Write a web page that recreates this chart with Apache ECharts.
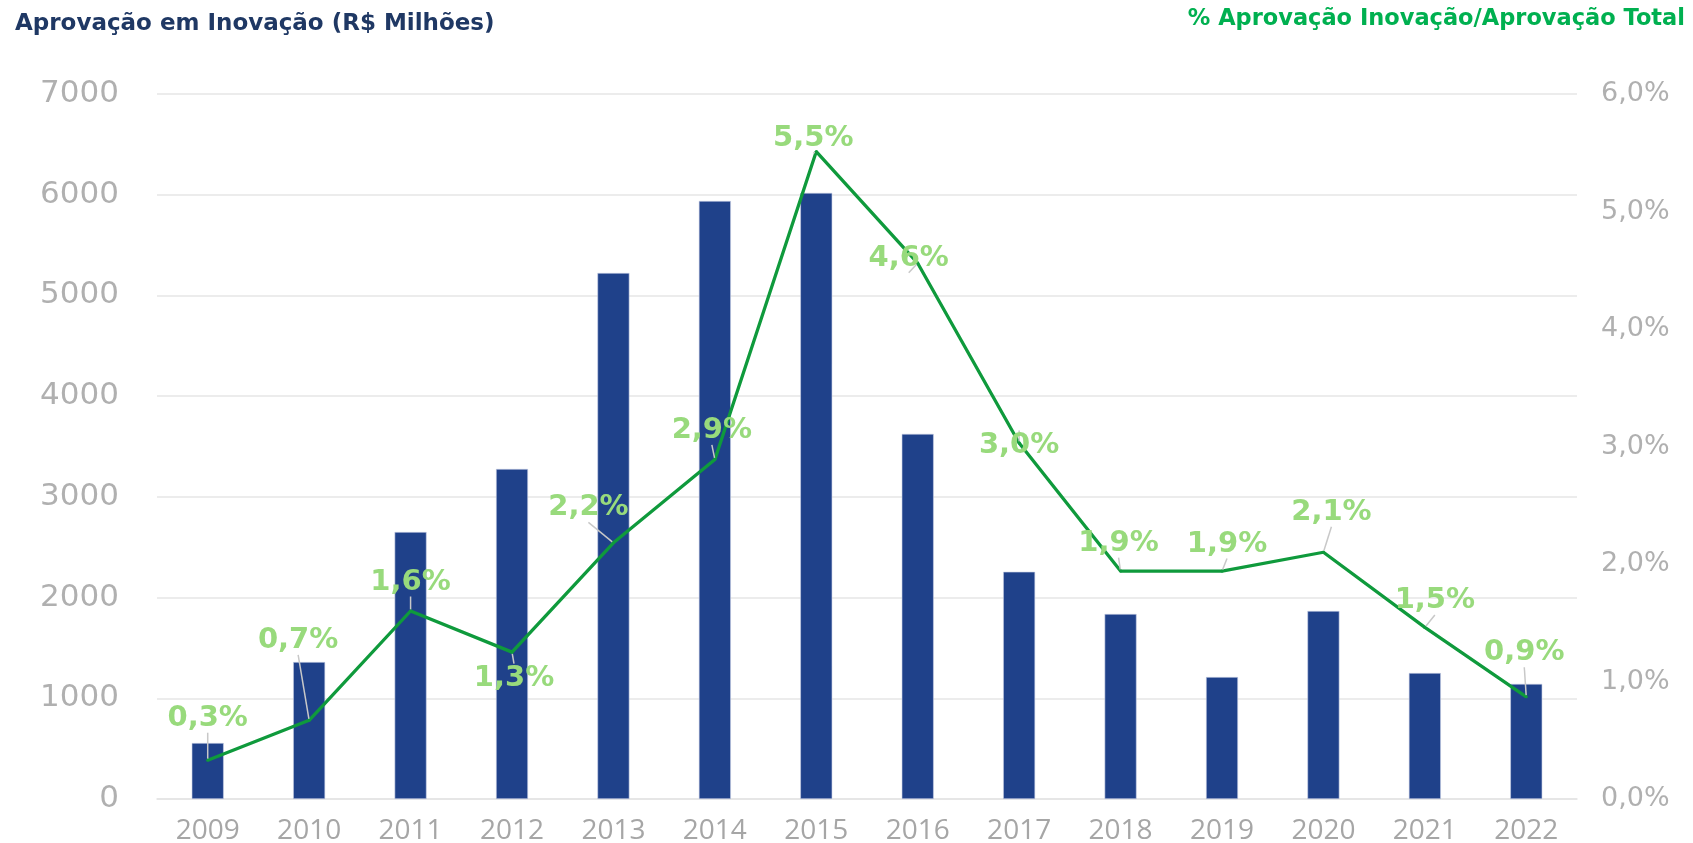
<!DOCTYPE html>
<html>
<head>
<meta charset="utf-8">
<script src="https://cdn.jsdelivr.net/npm/echarts@6/dist/echarts.min.js"></script>
<style>
html,body{margin:0;padding:0;background:#fff;}
#chart{width:1693px;height:843px;}
</style>
</head>
<body>
<div id="chart"></div>
<script>
var anos = ['2009','2010','2011','2012','2013','2014','2015','2016','2017','2018','2019','2020','2021','2022'];
// R$ milhões
var aprovacao = [556, 1360, 2651, 3277, 5223, 5938, 6018, 3625, 2256, 1837, 1211, 1867, 1251, 1143];
// % aprovação inovação / aprovação total
var percentual = [0.33, 0.67, 1.60, 1.25, 2.18, 2.89, 5.51, 4.56, 3.03, 1.94, 1.94, 2.10, 1.46, 0.87];
var ticksEsq = [0, 1000, 2000, 3000, 4000, 5000, 6000, 7000];
var ticksDir = [0, 1, 2, 3, 4, 5, 6];

// deslocamento dos rótulos (px) em relação ao ponto
var desloc = [[0,-42],[-11,-80],[0,-29],[2,26],[-25,-35],[-3,-29],[-3,-13],[-9,-5],[0,2],[-2,-28],[5,-27],[8,-40],[10,-27],[-2,-44]];

function pct(v){ return v.toFixed(1).replace('.', ',') + '%'; }

var chart = echarts.init(document.getElementById('chart'));
var option = {
	animation: false,
	title: [
		{
			text: 'Aprovação em Inovação (R$ Milhões)',
			left: 10, top: 8,
			textStyle: {color: '#1F3864', fontSize: 23, fontWeight: 'bold', fontFamily: 'DejaVu Sans'}
		},
		{
			text: '% Aprovação Inovação/Aprovação Total',
			right: 3, top: 3,
			textStyle: {color: '#00B050', fontSize: 22.5, fontWeight: 'bold', fontFamily: 'DejaVu Sans'}
		}
	],
	grid: {left: 157, right: 116, top: 94, bottom: 44, containLabel: false, outerBoundsMode: 'none'},
	xAxis: {
		type: 'category',
		data: anos,
		axisTick: {show: false},
		axisLine: {lineStyle: {color: '#e3e3e3', width: 1.5}},
		axisLabel: {color: '#a6a6a6', fontSize: 28, fontFamily: 'Open Sans', margin: 18}
	},
	yAxis: [
		{
			type: 'value',
			min: ticksEsq[0], max: ticksEsq[ticksEsq.length - 1], interval: 1000,
			axisLine: {show: false},
			axisTick: {show: false},
			splitLine: {lineStyle: {color: '#e6e6e6', width: 1.5}},
			axisLabel: {color: '#b0b0b0', fontSize: 31, fontFamily: 'DejaVu Sans', margin: 38, formatter: function(v){ return String(v); }}
		},
		{
			type: 'value',
			min: ticksDir[0], max: ticksDir[ticksDir.length - 1], interval: 1,
			axisLine: {show: false},
			axisTick: {show: false},
			splitLine: {show: false},
			axisLabel: {color: '#b0b0b0', fontSize: 27, fontFamily: 'DejaVu Sans', margin: 24, formatter: function(v){ return pct(v); }}
		}
	],
	series: [
		{
			name: 'Aprovação em Inovação',
			type: 'bar',
			data: aprovacao,
			barWidth: 32,
			itemStyle: {color: '#1F418A', borderColor: '#c9d0e6', borderWidth: 0.6}
		},
		{
			name: '% Aprovação Inovação/Aprovação Total',
			type: 'line',
			yAxisIndex: 1,
			data: percentual,
			symbol: 'circle',
			symbolSize: 3,
			itemStyle: {color: '#0F9A3C'},
			lineStyle: {color: '#0F9A3C', width: 3.3},
			z: 5,
			label: {
				show: true,
				position: 'inside',
				color: '#98DA7C',
				fontSize: 29,
				fontWeight: 'bold',
				fontFamily: 'DejaVu Sans',
				formatter: function(p){ return pct(p.value); }
			},
			labelLine: {show: true, lineStyle: {color: '#c8c8c8', width: 1.5}},
			labelLayout: function(p){
				return {dx: desloc[p.dataIndex][0], dy: desloc[p.dataIndex][1]};
			}
		}
	]
};
chart.setOption(option);
</script>
</body>
</html>
